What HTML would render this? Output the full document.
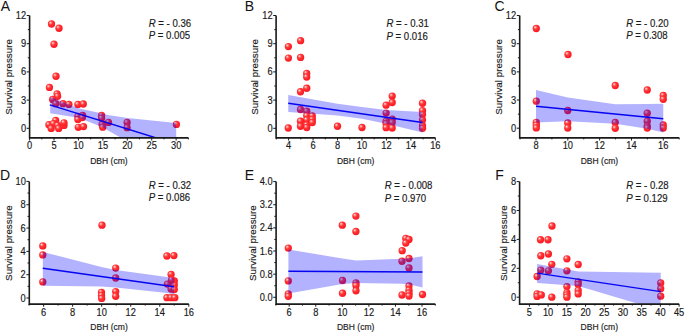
<!DOCTYPE html><html><head><meta charset="utf-8"><title>Survival pressure vs DBH</title><style>html,body{margin:0;padding:0;background:#fff;overflow:hidden}svg{display:block}</style></head><body>
<svg width="685" height="332" viewBox="0 0 685 332" style="font-family:'Liberation Sans', sans-serif">
<style>text{stroke:#1a1a1a;stroke-width:0.16px}text.L{stroke-width:0}</style>
<defs><radialGradient id="g" cx="0.42" cy="0.42" r="0.62" fx="0.33" fy="0.3"><stop offset="0" stop-color="#fff6f6"/><stop offset="0.16" stop-color="#ff9c9c"/><stop offset="0.42" stop-color="#ff3a3a"/><stop offset="0.8" stop-color="#ff1c24"/><stop offset="1" stop-color="#f2242c"/></radialGradient></defs>
<rect width="685" height="332" fill="#fff"/>
<g><circle cx="51.5" cy="24" r="3.65" fill="url(#g)"/><circle cx="59" cy="28.25" r="3.65" fill="url(#g)"/><circle cx="54" cy="44.25" r="3.65" fill="url(#g)"/><circle cx="56" cy="76.25" r="3.65" fill="url(#g)"/><circle cx="49.45" cy="87.45" r="3.65" fill="url(#g)"/><circle cx="57.1" cy="94" r="3.65" fill="url(#g)"/><circle cx="57.6" cy="96.3" r="3.65" fill="url(#g)"/><circle cx="52.6" cy="99.4" r="3.65" fill="url(#g)"/><circle cx="55.8" cy="103.7" r="3.65" fill="url(#g)"/><circle cx="63" cy="103.7" r="3.65" fill="url(#g)"/><circle cx="68.9" cy="104.4" r="3.65" fill="url(#g)"/><circle cx="77.9" cy="104.4" r="3.65" fill="url(#g)"/><circle cx="83.3" cy="104" r="3.65" fill="url(#g)"/><circle cx="77.9" cy="116.4" r="3.65" fill="url(#g)"/><circle cx="77.9" cy="119.4" r="3.65" fill="url(#g)"/><circle cx="82.6" cy="115.5" r="3.65" fill="url(#g)"/><circle cx="82.4" cy="117.5" r="3.65" fill="url(#g)"/><circle cx="101.6" cy="115.5" r="3.65" fill="url(#g)"/><circle cx="101.6" cy="118.2" r="3.65" fill="url(#g)"/><circle cx="102.1" cy="124.5" r="3.65" fill="url(#g)"/><circle cx="102.7" cy="127.2" r="3.65" fill="url(#g)"/><circle cx="108.5" cy="122.4" r="3.65" fill="url(#g)"/><circle cx="127.1" cy="122.4" r="3.65" fill="url(#g)"/><circle cx="127.1" cy="127.7" r="3.65" fill="url(#g)"/><circle cx="48.9" cy="124.7" r="3.65" fill="url(#g)"/><circle cx="55.7" cy="120.5" r="3.65" fill="url(#g)"/><circle cx="53.4" cy="123.6" r="3.65" fill="url(#g)"/><circle cx="57.6" cy="125.4" r="3.65" fill="url(#g)"/><circle cx="51.2" cy="128.4" r="3.65" fill="url(#g)"/><circle cx="58.7" cy="128.4" r="3.65" fill="url(#g)"/><circle cx="64" cy="125.4" r="3.65" fill="url(#g)"/><circle cx="64" cy="122.8" r="3.65" fill="url(#g)"/><circle cx="78.3" cy="127.3" r="3.65" fill="url(#g)"/><circle cx="83.5" cy="126.6" r="3.65" fill="url(#g)"/><circle cx="176.4" cy="124.4" r="3.65" fill="url(#g)"/><clipPath id="cA"><rect x="29.5" y="15.5" width="158.86" height="122.2"/></clipPath><polygon clip-path="url(#cA)" points="50.2,96.8 78.25,108.3 83.75,109.5 102.5,113.6 108,115 127.5,118 176.2,123 176.2,165.2 127.5,141.5 108,130.5 102.5,127.2 83.75,119.8 78.25,117.8 50.2,113.3" fill="#0000ff" fill-opacity="0.3"/><polyline clip-path="url(#cA)" points="49.8,104.8 154.7,137.5" fill="none" stroke="#0505f2" stroke-width="1.4"/><path d="M29.6 15.5V137.9H188.36" fill="none" stroke="#1a1a1a" stroke-width="1.6"/><path d="M29.6 137.7v2.8M54.02 137.7v2.8M78.45 137.7v2.8M102.88 137.7v2.8M127.3 137.7v2.8M151.72 137.7v2.8M176.15 137.7v2.8M41.81 137.7v1.7M66.24 137.7v1.7M90.66 137.7v1.7M115.09 137.7v1.7M139.51 137.7v1.7M163.94 137.7v1.7M188.36 137.7v1.7M29.5 128.3h-2.8M29.5 100.1h-2.8M29.5 71.9h-2.8M29.5 43.7h-2.8M29.5 15.5h-2.8M29.5 114.2h-1.7M29.5 86h-1.7M29.5 57.8h-1.7M29.5 29.6h-1.7" fill="none" stroke="#1a1a1a" stroke-width="1"/><text transform="translate(29.6 149.3) scale(0.93 1)" font-size="10" text-anchor="middle" fill="#1a1a1a">0</text><text transform="translate(54.02 149.3) scale(0.93 1)" font-size="10" text-anchor="middle" fill="#1a1a1a">5</text><text transform="translate(78.45 149.3) scale(0.93 1)" font-size="10" text-anchor="middle" fill="#1a1a1a">10</text><text transform="translate(102.88 149.3) scale(0.93 1)" font-size="10" text-anchor="middle" fill="#1a1a1a">15</text><text transform="translate(127.3 149.3) scale(0.93 1)" font-size="10" text-anchor="middle" fill="#1a1a1a">20</text><text transform="translate(151.72 149.3) scale(0.93 1)" font-size="10" text-anchor="middle" fill="#1a1a1a">25</text><text transform="translate(176.15 149.3) scale(0.93 1)" font-size="10" text-anchor="middle" fill="#1a1a1a">30</text><text transform="translate(26.1 131.8) scale(0.93 1)" font-size="10" text-anchor="end" fill="#1a1a1a">0</text><text transform="translate(26.1 103.6) scale(0.93 1)" font-size="10" text-anchor="end" fill="#1a1a1a">3</text><text transform="translate(26.1 75.4) scale(0.93 1)" font-size="10" text-anchor="end" fill="#1a1a1a">6</text><text transform="translate(26.1 47.2) scale(0.93 1)" font-size="10" text-anchor="end" fill="#1a1a1a">9</text><text transform="translate(26.1 19) scale(0.93 1)" font-size="10" text-anchor="end" fill="#1a1a1a">12</text><text transform="translate(108.93 163.7) scale(0.95 1)" font-size="9" text-anchor="middle" fill="#1a1a1a">DBH (cm)</text><text transform="translate(11.8 77) rotate(-90)" font-size="9.8" text-anchor="middle" fill="#1a1a1a">Survival pressure</text><text transform="translate(148.7 26.9) scale(0.96 1)" font-size="10" fill="#1a1a1a"><tspan font-style="italic">R</tspan> = - 0.36</text><text transform="translate(148.7 39.4) scale(0.96 1)" font-size="10" fill="#1a1a1a"><tspan font-style="italic">P</tspan> = 0.005</text><text class="L" x="0.7" y="11.1" font-size="14" fill="#111">A</text></g>
<g><circle cx="288.4" cy="46.6" r="3.65" fill="url(#g)"/><circle cx="288.4" cy="58.1" r="3.65" fill="url(#g)"/><circle cx="300.6" cy="40.7" r="3.65" fill="url(#g)"/><circle cx="300.6" cy="57.4" r="3.65" fill="url(#g)"/><circle cx="306.7" cy="73.4" r="3.65" fill="url(#g)"/><circle cx="306.7" cy="77.1" r="3.65" fill="url(#g)"/><circle cx="300.5" cy="91.75" r="3.65" fill="url(#g)"/><circle cx="306.75" cy="88.25" r="3.65" fill="url(#g)"/><circle cx="300.5" cy="109.5" r="3.65" fill="url(#g)"/><circle cx="306.75" cy="111.25" r="3.65" fill="url(#g)"/><circle cx="306.75" cy="115.75" r="3.65" fill="url(#g)"/><circle cx="306.75" cy="120" r="3.65" fill="url(#g)"/><circle cx="306.75" cy="125" r="3.65" fill="url(#g)"/><circle cx="306.75" cy="127.5" r="3.65" fill="url(#g)"/><circle cx="300.5" cy="121.25" r="3.65" fill="url(#g)"/><circle cx="300.5" cy="126.25" r="3.65" fill="url(#g)"/><circle cx="312.3" cy="116" r="3.65" fill="url(#g)"/><circle cx="312.3" cy="119.5" r="3.65" fill="url(#g)"/><circle cx="312.3" cy="122.5" r="3.65" fill="url(#g)"/><circle cx="288.25" cy="128" r="3.65" fill="url(#g)"/><circle cx="337.5" cy="126.25" r="3.65" fill="url(#g)"/><circle cx="362" cy="127.5" r="3.65" fill="url(#g)"/><circle cx="386.1" cy="105.2" r="3.65" fill="url(#g)"/><circle cx="386.1" cy="113.1" r="3.65" fill="url(#g)"/><circle cx="386.1" cy="121.2" r="3.65" fill="url(#g)"/><circle cx="386.1" cy="123.5" r="3.65" fill="url(#g)"/><circle cx="386.1" cy="127.7" r="3.65" fill="url(#g)"/><circle cx="392.2" cy="96.1" r="3.65" fill="url(#g)"/><circle cx="392.2" cy="102.5" r="3.65" fill="url(#g)"/><circle cx="392.2" cy="119.2" r="3.65" fill="url(#g)"/><circle cx="392.2" cy="122.6" r="3.65" fill="url(#g)"/><circle cx="392.2" cy="128" r="3.65" fill="url(#g)"/><circle cx="422.5" cy="103.25" r="3.65" fill="url(#g)"/><circle cx="422.5" cy="110.75" r="3.65" fill="url(#g)"/><circle cx="422.5" cy="114.5" r="3.65" fill="url(#g)"/><circle cx="422.5" cy="120" r="3.65" fill="url(#g)"/><circle cx="422.5" cy="125.75" r="3.65" fill="url(#g)"/><circle cx="422.5" cy="128.25" r="3.65" fill="url(#g)"/><clipPath id="cB"><rect x="276" y="15.5" width="159.36" height="122.2"/></clipPath><polygon clip-path="url(#cB)" points="288.25,95 337.5,103.75 362,107 386.25,110 422.5,112 422.5,132.5 386.25,123.75 362,118.75 337.5,115.5 288.25,112" fill="#0000ff" fill-opacity="0.3"/><polyline clip-path="url(#cB)" points="288.25,103.25 422.5,122.5" fill="none" stroke="#0505f2" stroke-width="1.4"/><path d="M276.1 15.5V137.9H435.36" fill="none" stroke="#1a1a1a" stroke-width="1.6"/><path d="M288.6 137.7v2.8M313.06 137.7v2.8M337.52 137.7v2.8M361.98 137.7v2.8M386.44 137.7v2.8M410.9 137.7v2.8M435.36 137.7v2.8M276.37 137.7v1.7M300.83 137.7v1.7M325.29 137.7v1.7M349.75 137.7v1.7M374.21 137.7v1.7M398.67 137.7v1.7M423.13 137.7v1.7M276 128.3h-2.8M276 100.1h-2.8M276 71.9h-2.8M276 43.7h-2.8M276 15.5h-2.8M276 114.2h-1.7M276 86h-1.7M276 57.8h-1.7M276 29.6h-1.7" fill="none" stroke="#1a1a1a" stroke-width="1"/><text transform="translate(288.6 149.3) scale(0.93 1)" font-size="10" text-anchor="middle" fill="#1a1a1a">4</text><text transform="translate(313.06 149.3) scale(0.93 1)" font-size="10" text-anchor="middle" fill="#1a1a1a">6</text><text transform="translate(337.52 149.3) scale(0.93 1)" font-size="10" text-anchor="middle" fill="#1a1a1a">8</text><text transform="translate(361.98 149.3) scale(0.93 1)" font-size="10" text-anchor="middle" fill="#1a1a1a">10</text><text transform="translate(386.44 149.3) scale(0.93 1)" font-size="10" text-anchor="middle" fill="#1a1a1a">12</text><text transform="translate(410.9 149.3) scale(0.93 1)" font-size="10" text-anchor="middle" fill="#1a1a1a">14</text><text transform="translate(435.36 149.3) scale(0.93 1)" font-size="10" text-anchor="middle" fill="#1a1a1a">16</text><text transform="translate(272.6 131.8) scale(0.93 1)" font-size="10" text-anchor="end" fill="#1a1a1a">0</text><text transform="translate(272.6 103.6) scale(0.93 1)" font-size="10" text-anchor="end" fill="#1a1a1a">3</text><text transform="translate(272.6 75.4) scale(0.93 1)" font-size="10" text-anchor="end" fill="#1a1a1a">6</text><text transform="translate(272.6 47.2) scale(0.93 1)" font-size="10" text-anchor="end" fill="#1a1a1a">9</text><text transform="translate(272.6 19) scale(0.93 1)" font-size="10" text-anchor="end" fill="#1a1a1a">12</text><text transform="translate(355.68 163.7) scale(0.95 1)" font-size="9" text-anchor="middle" fill="#1a1a1a">DBH (cm)</text><text transform="translate(257.7 77) rotate(-90)" font-size="9.8" text-anchor="middle" fill="#1a1a1a">Survival pressure</text><text transform="translate(386.45 27.2) scale(0.96 1)" font-size="10" fill="#1a1a1a"><tspan font-style="italic">R</tspan> = - 0.31</text><text transform="translate(386.45 39.7) scale(0.96 1)" font-size="10" fill="#1a1a1a"><tspan font-style="italic">P</tspan> = 0.016</text><text class="L" x="244.7" y="11.1" font-size="14" fill="#111">B</text></g>
<g><circle cx="536.3" cy="28.5" r="3.65" fill="url(#g)"/><circle cx="568" cy="54.5" r="3.65" fill="url(#g)"/><circle cx="536.3" cy="101.2" r="3.65" fill="url(#g)"/><circle cx="536.3" cy="122.4" r="3.65" fill="url(#g)"/><circle cx="536.3" cy="125.2" r="3.65" fill="url(#g)"/><circle cx="536.3" cy="127.9" r="3.65" fill="url(#g)"/><circle cx="567.75" cy="110.5" r="3.65" fill="url(#g)"/><circle cx="567.75" cy="123" r="3.65" fill="url(#g)"/><circle cx="567.75" cy="128" r="3.65" fill="url(#g)"/><circle cx="615.25" cy="85.5" r="3.65" fill="url(#g)"/><circle cx="615.25" cy="122.5" r="3.65" fill="url(#g)"/><circle cx="615.25" cy="128.25" r="3.65" fill="url(#g)"/><circle cx="647.25" cy="90" r="3.65" fill="url(#g)"/><circle cx="647.25" cy="113.25" r="3.65" fill="url(#g)"/><circle cx="647.25" cy="121.25" r="3.65" fill="url(#g)"/><circle cx="647.25" cy="126.25" r="3.65" fill="url(#g)"/><circle cx="647.25" cy="128" r="3.65" fill="url(#g)"/><circle cx="663.25" cy="95.5" r="3.65" fill="url(#g)"/><circle cx="663.25" cy="99.25" r="3.65" fill="url(#g)"/><circle cx="663.25" cy="125" r="3.65" fill="url(#g)"/><circle cx="663.25" cy="128" r="3.65" fill="url(#g)"/><clipPath id="cC"><rect x="519.6" y="15.52" width="159.59" height="122.18"/></clipPath><polygon clip-path="url(#cC)" points="536,90 567.75,97.5 615.25,104.25 647.25,104 663.25,103.75 663.25,132.5 647.25,128.75 615.25,123.75 567.75,121.25 536,122.5" fill="#0000ff" fill-opacity="0.3"/><polyline clip-path="url(#cC)" points="536,106.25 663.25,118.75" fill="none" stroke="#0505f2" stroke-width="1.4"/><path d="M519.7 15.52V137.9H679.19" fill="none" stroke="#1a1a1a" stroke-width="1.6"/><path d="M536 137.7v2.8M567.82 137.7v2.8M599.64 137.7v2.8M631.46 137.7v2.8M663.28 137.7v2.8M520.09 137.7v1.7M551.91 137.7v1.7M583.73 137.7v1.7M615.55 137.7v1.7M647.37 137.7v1.7M679.19 137.7v1.7M519.6 128.2h-2.8M519.6 100.03h-2.8M519.6 71.86h-2.8M519.6 43.69h-2.8M519.6 15.52h-2.8M519.6 114.11h-1.7M519.6 85.94h-1.7M519.6 57.77h-1.7M519.6 29.6h-1.7" fill="none" stroke="#1a1a1a" stroke-width="1"/><text transform="translate(536 149.3) scale(0.93 1)" font-size="10" text-anchor="middle" fill="#1a1a1a">8</text><text transform="translate(567.82 149.3) scale(0.93 1)" font-size="10" text-anchor="middle" fill="#1a1a1a">10</text><text transform="translate(599.64 149.3) scale(0.93 1)" font-size="10" text-anchor="middle" fill="#1a1a1a">12</text><text transform="translate(631.46 149.3) scale(0.93 1)" font-size="10" text-anchor="middle" fill="#1a1a1a">14</text><text transform="translate(663.28 149.3) scale(0.93 1)" font-size="10" text-anchor="middle" fill="#1a1a1a">16</text><text transform="translate(516.2 131.7) scale(0.93 1)" font-size="10" text-anchor="end" fill="#1a1a1a">0</text><text transform="translate(516.2 103.53) scale(0.93 1)" font-size="10" text-anchor="end" fill="#1a1a1a">3</text><text transform="translate(516.2 75.36) scale(0.93 1)" font-size="10" text-anchor="end" fill="#1a1a1a">6</text><text transform="translate(516.2 47.19) scale(0.93 1)" font-size="10" text-anchor="end" fill="#1a1a1a">9</text><text transform="translate(516.2 19.02) scale(0.93 1)" font-size="10" text-anchor="end" fill="#1a1a1a">12</text><text transform="translate(599.39 163.7) scale(0.95 1)" font-size="9" text-anchor="middle" fill="#1a1a1a">DBH (cm)</text><text transform="translate(501.9 77.01) rotate(-90)" font-size="9.8" text-anchor="middle" fill="#1a1a1a">Survival pressure</text><text transform="translate(626.2 26.9) scale(0.96 1)" font-size="10" fill="#1a1a1a"><tspan font-style="italic">R</tspan> = - 0.20</text><text transform="translate(626.2 39.4) scale(0.96 1)" font-size="10" fill="#1a1a1a"><tspan font-style="italic">P</tspan> = 0.308</text><text class="L" x="494.4" y="11.1" font-size="14" fill="#111">C</text></g>
<g><circle cx="102" cy="225.2" r="3.65" fill="url(#g)"/><circle cx="42.8" cy="245.9" r="3.65" fill="url(#g)"/><circle cx="42.8" cy="254.9" r="3.65" fill="url(#g)"/><circle cx="42.8" cy="281.9" r="3.65" fill="url(#g)"/><circle cx="101.5" cy="292.4" r="3.65" fill="url(#g)"/><circle cx="101.5" cy="295.4" r="3.65" fill="url(#g)"/><circle cx="101.7" cy="298.4" r="3.65" fill="url(#g)"/><circle cx="115.7" cy="268.1" r="3.65" fill="url(#g)"/><circle cx="115.7" cy="278" r="3.65" fill="url(#g)"/><circle cx="115.7" cy="291.6" r="3.65" fill="url(#g)"/><circle cx="115.7" cy="296.3" r="3.65" fill="url(#g)"/><circle cx="166.9" cy="256" r="3.65" fill="url(#g)"/><circle cx="173.9" cy="255.6" r="3.65" fill="url(#g)"/><circle cx="171.1" cy="274.4" r="3.65" fill="url(#g)"/><circle cx="167.4" cy="284.1" r="3.65" fill="url(#g)"/><circle cx="171.1" cy="289" r="3.65" fill="url(#g)"/><circle cx="174.3" cy="281" r="3.65" fill="url(#g)"/><circle cx="174.3" cy="285" r="3.65" fill="url(#g)"/><circle cx="174.3" cy="289.5" r="3.65" fill="url(#g)"/><circle cx="171.6" cy="280" r="3.65" fill="url(#g)"/><circle cx="166.9" cy="297.7" r="3.65" fill="url(#g)"/><circle cx="171.1" cy="297.7" r="3.65" fill="url(#g)"/><circle cx="174.8" cy="297.7" r="3.65" fill="url(#g)"/><clipPath id="cD"><rect x="29.2" y="181.4" width="159.6" height="122.5"/></clipPath><polygon clip-path="url(#cD)" points="42.8,251.9 101.5,267 115.7,269.9 167,277 174,278 174,294.25 167,293 115.7,287.5 101.5,286.5 42.8,285.7" fill="#0000ff" fill-opacity="0.3"/><polyline clip-path="url(#cD)" points="42.8,268.3 174,286.75" fill="none" stroke="#0505f2" stroke-width="1.4"/><path d="M29.3 181.4V304.1H188.8" fill="none" stroke="#1a1a1a" stroke-width="1.6"/><path d="M43.6 303.9v2.8M72.64 303.9v2.8M101.68 303.9v2.8M130.72 303.9v2.8M159.76 303.9v2.8M188.8 303.9v2.8M29.08 303.9v1.7M58.12 303.9v1.7M87.16 303.9v1.7M116.2 303.9v1.7M145.24 303.9v1.7M174.28 303.9v1.7M29.2 298h-2.8M29.2 274.68h-2.8M29.2 251.36h-2.8M29.2 228.04h-2.8M29.2 204.72h-2.8M29.2 181.4h-2.8M29.2 286.34h-1.7M29.2 263.02h-1.7M29.2 239.7h-1.7M29.2 216.38h-1.7M29.2 193.06h-1.7" fill="none" stroke="#1a1a1a" stroke-width="1"/><text transform="translate(43.6 315.5) scale(0.93 1)" font-size="10" text-anchor="middle" fill="#1a1a1a">6</text><text transform="translate(72.64 315.5) scale(0.93 1)" font-size="10" text-anchor="middle" fill="#1a1a1a">8</text><text transform="translate(101.68 315.5) scale(0.93 1)" font-size="10" text-anchor="middle" fill="#1a1a1a">10</text><text transform="translate(130.72 315.5) scale(0.93 1)" font-size="10" text-anchor="middle" fill="#1a1a1a">12</text><text transform="translate(159.76 315.5) scale(0.93 1)" font-size="10" text-anchor="middle" fill="#1a1a1a">14</text><text transform="translate(188.8 315.5) scale(0.93 1)" font-size="10" text-anchor="middle" fill="#1a1a1a">16</text><text transform="translate(25.8 301.5) scale(0.93 1)" font-size="10" text-anchor="end" fill="#1a1a1a">0</text><text transform="translate(25.8 278.18) scale(0.93 1)" font-size="10" text-anchor="end" fill="#1a1a1a">2</text><text transform="translate(25.8 254.86) scale(0.93 1)" font-size="10" text-anchor="end" fill="#1a1a1a">4</text><text transform="translate(25.8 231.54) scale(0.93 1)" font-size="10" text-anchor="end" fill="#1a1a1a">6</text><text transform="translate(25.8 208.22) scale(0.93 1)" font-size="10" text-anchor="end" fill="#1a1a1a">8</text><text transform="translate(25.8 184.9) scale(0.93 1)" font-size="10" text-anchor="end" fill="#1a1a1a">10</text><text transform="translate(109 329.9) scale(0.95 1)" font-size="9" text-anchor="middle" fill="#1a1a1a">DBH (cm)</text><text transform="translate(12 243.05) rotate(-90)" font-size="9.8" text-anchor="middle" fill="#1a1a1a">Survival pressure</text><text transform="translate(148.7 188.8) scale(0.96 1)" font-size="10" fill="#1a1a1a"><tspan font-style="italic">R</tspan> = - 0.32</text><text transform="translate(148.7 201.3) scale(0.96 1)" font-size="10" fill="#1a1a1a"><tspan font-style="italic">P</tspan> = 0.086</text><text class="L" x="0" y="179.5" font-size="14" fill="#111">D</text></g>
<g><circle cx="342.3" cy="225.2" r="3.65" fill="url(#g)"/><circle cx="355.9" cy="216.1" r="3.65" fill="url(#g)"/><circle cx="355.9" cy="231.5" r="3.65" fill="url(#g)"/><circle cx="288.3" cy="248.1" r="3.65" fill="url(#g)"/><circle cx="288.3" cy="280.9" r="3.65" fill="url(#g)"/><circle cx="288.3" cy="294" r="3.65" fill="url(#g)"/><circle cx="288.3" cy="296.3" r="3.65" fill="url(#g)"/><circle cx="342.5" cy="280.5" r="3.65" fill="url(#g)"/><circle cx="342.5" cy="293.25" r="3.65" fill="url(#g)"/><circle cx="356" cy="283" r="3.65" fill="url(#g)"/><circle cx="356" cy="285.5" r="3.65" fill="url(#g)"/><circle cx="356" cy="290.75" r="3.65" fill="url(#g)"/><circle cx="405.8" cy="238.4" r="3.65" fill="url(#g)"/><circle cx="409" cy="239.5" r="3.65" fill="url(#g)"/><circle cx="405.8" cy="243.1" r="3.65" fill="url(#g)"/><circle cx="402.2" cy="250.7" r="3.65" fill="url(#g)"/><circle cx="402" cy="261.25" r="3.65" fill="url(#g)"/><circle cx="402" cy="295" r="3.65" fill="url(#g)"/><circle cx="409" cy="258.5" r="3.65" fill="url(#g)"/><circle cx="409" cy="268" r="3.65" fill="url(#g)"/><circle cx="409" cy="286" r="3.65" fill="url(#g)"/><circle cx="409" cy="290.2" r="3.65" fill="url(#g)"/><circle cx="409" cy="293.2" r="3.65" fill="url(#g)"/><circle cx="409" cy="296" r="3.65" fill="url(#g)"/><circle cx="422.5" cy="294.5" r="3.65" fill="url(#g)"/><clipPath id="cE"><rect x="276" y="181.58" width="159.28" height="122.32"/></clipPath><polygon clip-path="url(#cE)" points="288.4,249.5 342.5,258.5 356,260.5 402,258.75 409.5,258.25 422.5,256.25 422.5,287.5 409.5,284.5 402,283.75 356,283 342.5,284 288.4,293.5" fill="#0000ff" fill-opacity="0.3"/><polyline clip-path="url(#cE)" points="288.4,271.25 422.5,272" fill="none" stroke="#0505f2" stroke-width="1.4"/><path d="M276.1 181.58V304.1H435.28" fill="none" stroke="#1a1a1a" stroke-width="1.6"/><path d="M289.2 303.9v2.8M315.76 303.9v2.8M342.32 303.9v2.8M368.88 303.9v2.8M395.44 303.9v2.8M422 303.9v2.8M275.92 303.9v1.7M302.48 303.9v1.7M329.04 303.9v1.7M355.6 303.9v1.7M382.16 303.9v1.7M408.72 303.9v1.7M435.28 303.9v1.7M276 297.3h-2.8M276 274.16h-2.8M276 251.01h-2.8M276 227.87h-2.8M276 204.72h-2.8M276 181.58h-2.8M276 285.73h-1.7M276 262.58h-1.7M276 239.44h-1.7M276 216.3h-1.7M276 193.15h-1.7" fill="none" stroke="#1a1a1a" stroke-width="1"/><text transform="translate(289.2 315.5) scale(0.93 1)" font-size="10" text-anchor="middle" fill="#1a1a1a">6</text><text transform="translate(315.76 315.5) scale(0.93 1)" font-size="10" text-anchor="middle" fill="#1a1a1a">8</text><text transform="translate(342.32 315.5) scale(0.93 1)" font-size="10" text-anchor="middle" fill="#1a1a1a">10</text><text transform="translate(368.88 315.5) scale(0.93 1)" font-size="10" text-anchor="middle" fill="#1a1a1a">12</text><text transform="translate(395.44 315.5) scale(0.93 1)" font-size="10" text-anchor="middle" fill="#1a1a1a">14</text><text transform="translate(422 315.5) scale(0.93 1)" font-size="10" text-anchor="middle" fill="#1a1a1a">16</text><text transform="translate(272.6 300.8) scale(0.93 1)" font-size="10" text-anchor="end" fill="#1a1a1a">0.0</text><text transform="translate(272.6 277.66) scale(0.93 1)" font-size="10" text-anchor="end" fill="#1a1a1a">0.8</text><text transform="translate(272.6 254.51) scale(0.93 1)" font-size="10" text-anchor="end" fill="#1a1a1a">1.6</text><text transform="translate(272.6 231.37) scale(0.93 1)" font-size="10" text-anchor="end" fill="#1a1a1a">2.4</text><text transform="translate(272.6 208.22) scale(0.93 1)" font-size="10" text-anchor="end" fill="#1a1a1a">3.2</text><text transform="translate(272.6 185.08) scale(0.93 1)" font-size="10" text-anchor="end" fill="#1a1a1a">4.0</text><text transform="translate(355.64 329.9) scale(0.95 1)" font-size="9" text-anchor="middle" fill="#1a1a1a">DBH (cm)</text><text transform="translate(255.6 243.14) rotate(-90)" font-size="9.8" text-anchor="middle" fill="#1a1a1a">Survival pressure</text><text transform="translate(384.7 189) scale(0.96 1)" font-size="10" fill="#1a1a1a"><tspan font-style="italic">R</tspan> = - 0.008</text><text transform="translate(384.7 201.5) scale(0.96 1)" font-size="10" fill="#1a1a1a"><tspan font-style="italic">P</tspan> = 0.970</text><text class="L" x="244.7" y="179.8" font-size="14" fill="#111">E</text></g>
<g><circle cx="552" cy="226" r="3.65" fill="url(#g)"/><circle cx="540.5" cy="239.75" r="3.65" fill="url(#g)"/><circle cx="548" cy="239.75" r="3.65" fill="url(#g)"/><circle cx="537.1" cy="276.5" r="3.65" fill="url(#g)"/><circle cx="537.1" cy="293.9" r="3.65" fill="url(#g)"/><circle cx="537.1" cy="296.4" r="3.65" fill="url(#g)"/><circle cx="541.3" cy="294.9" r="3.65" fill="url(#g)"/><circle cx="540.8" cy="255.75" r="3.65" fill="url(#g)"/><circle cx="540.8" cy="270.1" r="3.65" fill="url(#g)"/><circle cx="548.4" cy="254" r="3.65" fill="url(#g)"/><circle cx="548.4" cy="270.8" r="3.65" fill="url(#g)"/><circle cx="551.8" cy="264.3" r="3.65" fill="url(#g)"/><circle cx="551.8" cy="297.2" r="3.65" fill="url(#g)"/><circle cx="566.9" cy="258.8" r="3.65" fill="url(#g)"/><circle cx="566.9" cy="270.8" r="3.65" fill="url(#g)"/><circle cx="566.9" cy="286.6" r="3.65" fill="url(#g)"/><circle cx="566.9" cy="292.7" r="3.65" fill="url(#g)"/><circle cx="566.9" cy="294.9" r="3.65" fill="url(#g)"/><circle cx="566.9" cy="297.2" r="3.65" fill="url(#g)"/><circle cx="578.2" cy="264.5" r="3.65" fill="url(#g)"/><circle cx="578.2" cy="281.8" r="3.65" fill="url(#g)"/><circle cx="578.2" cy="284.4" r="3.65" fill="url(#g)"/><circle cx="578.2" cy="290.4" r="3.65" fill="url(#g)"/><circle cx="578.2" cy="293.9" r="3.65" fill="url(#g)"/><circle cx="660.7" cy="282.9" r="3.65" fill="url(#g)"/><circle cx="660.7" cy="288.7" r="3.65" fill="url(#g)"/><circle cx="660.7" cy="296.2" r="3.65" fill="url(#g)"/><clipPath id="cF"><rect x="519.5" y="181.6" width="159.6" height="122.3"/></clipPath><polygon clip-path="url(#cF)" points="537.1,264 578.2,271.6 660.7,272.8 660.7,310.5 578.2,285.9 537.1,282.9" fill="#0000ff" fill-opacity="0.3"/><polyline clip-path="url(#cF)" points="537.1,273.1 660.7,291.6" fill="none" stroke="#0505f2" stroke-width="1.4"/><path d="M519.6 181.6V304.1H679.1" fill="none" stroke="#1a1a1a" stroke-width="1.6"/><path d="M529.4 303.9v2.8M548.11 303.9v2.8M566.82 303.9v2.8M585.54 303.9v2.8M604.25 303.9v2.8M622.96 303.9v2.8M641.67 303.9v2.8M660.39 303.9v2.8M679.1 303.9v2.8M538.76 303.9v1.7M557.47 303.9v1.7M576.18 303.9v1.7M594.89 303.9v1.7M613.61 303.9v1.7M632.32 303.9v1.7M651.03 303.9v1.7M669.74 303.9v1.7M519.5 297.2h-2.8M519.5 268.3h-2.8M519.5 239.4h-2.8M519.5 210.5h-2.8M519.5 181.6h-2.8M519.5 282.75h-1.7M519.5 253.85h-1.7M519.5 224.95h-1.7M519.5 196.05h-1.7" fill="none" stroke="#1a1a1a" stroke-width="1"/><text transform="translate(529.4 315.5) scale(0.93 1)" font-size="10" text-anchor="middle" fill="#1a1a1a">5</text><text transform="translate(548.11 315.5) scale(0.93 1)" font-size="10" text-anchor="middle" fill="#1a1a1a">10</text><text transform="translate(566.82 315.5) scale(0.93 1)" font-size="10" text-anchor="middle" fill="#1a1a1a">15</text><text transform="translate(585.54 315.5) scale(0.93 1)" font-size="10" text-anchor="middle" fill="#1a1a1a">20</text><text transform="translate(604.25 315.5) scale(0.93 1)" font-size="10" text-anchor="middle" fill="#1a1a1a">25</text><text transform="translate(622.96 315.5) scale(0.93 1)" font-size="10" text-anchor="middle" fill="#1a1a1a">30</text><text transform="translate(641.67 315.5) scale(0.93 1)" font-size="10" text-anchor="middle" fill="#1a1a1a">35</text><text transform="translate(660.39 315.5) scale(0.93 1)" font-size="10" text-anchor="middle" fill="#1a1a1a">40</text><text transform="translate(679.1 315.5) scale(0.93 1)" font-size="10" text-anchor="middle" fill="#1a1a1a">45</text><text transform="translate(516.1 300.7) scale(0.93 1)" font-size="10" text-anchor="end" fill="#1a1a1a">0</text><text transform="translate(516.1 271.8) scale(0.93 1)" font-size="10" text-anchor="end" fill="#1a1a1a">2</text><text transform="translate(516.1 242.9) scale(0.93 1)" font-size="10" text-anchor="end" fill="#1a1a1a">4</text><text transform="translate(516.1 214) scale(0.93 1)" font-size="10" text-anchor="end" fill="#1a1a1a">6</text><text transform="translate(516.1 185.1) scale(0.93 1)" font-size="10" text-anchor="end" fill="#1a1a1a">8</text><text transform="translate(599.3 329.9) scale(0.95 1)" font-size="9" text-anchor="middle" fill="#1a1a1a">DBH (cm)</text><text transform="translate(506.7 243.15) rotate(-90)" font-size="9.8" text-anchor="middle" fill="#1a1a1a">Survival pressure</text><text transform="translate(626.2 189) scale(0.96 1)" font-size="10" fill="#1a1a1a"><tspan font-style="italic">R</tspan> = - 0.28</text><text transform="translate(626.2 201.5) scale(0.96 1)" font-size="10" fill="#1a1a1a"><tspan font-style="italic">P</tspan> = 0.129</text><text class="L" x="495.2" y="179.8" font-size="14" fill="#111">F</text></g>
</svg></body></html>
